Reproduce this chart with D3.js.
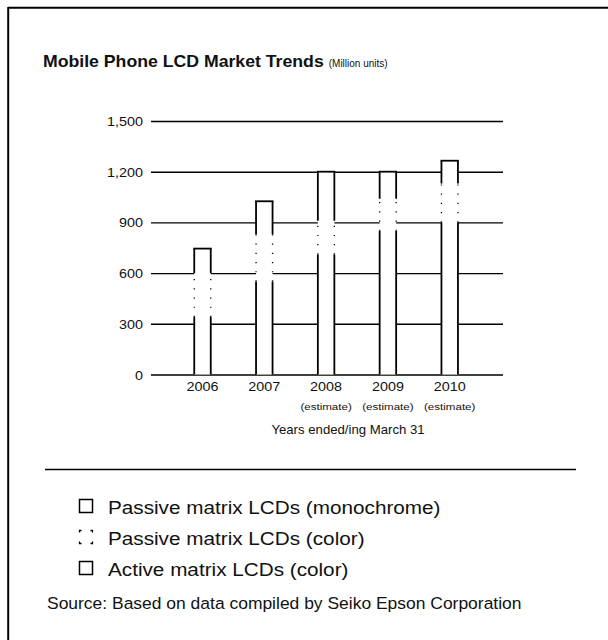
<!DOCTYPE html>
<html>
<head>
<meta charset="utf-8">
<script src="https://cdn.jsdelivr.net/npm/d3@7"></script>
<style>
  html, body { margin: 0; padding: 0; background: #fff; }
  svg { display: block; }
  text { font-family: "Liberation Sans", Arial, Helvetica, sans-serif; fill: #111; }
</style>
</head>
<body>
<svg id="chart" width="608" height="640"></svg>
<script>
// Fiscal years (ended/ending March 31) and their notes
const years = ["2006", "2007", "2008", "2009", "2010"];
const yearNotes = ["", "", "(estimate)", "(estimate)", "(estimate)"];

// Shipments, million units, stacked bottom to top
const activeMatrixColor = [340, 550, 710, 850, 900];
const passiveMatrixColor = [260, 280, 200, 190, 230];
const passiveMatrixMono = [145, 195, 290, 160, 135];

const seriesKeys = ["active", "passiveColor", "passiveMono"];
const legendLabels = [
  "Passive matrix LCDs (monochrome)",
  "Passive matrix LCDs (color)",
  "Active matrix LCDs (color)"
];
const yTicks = [0, 300, 600, 900, 1200, 1500];

const rows = years.map((yr, i) => ({
  year: yr,
  active: activeMatrixColor[i],
  passiveColor: passiveMatrixColor[i],
  passiveMono: passiveMatrixMono[i]
}));

const svg = d3.select("#chart");
const SX = 1.12; // slightly wide typeface

function label(g, x, y, str, size, opts = {}) {
  return g.append("text")
    .attr("transform", `translate(${x},${y}) scale(${opts.sx || SX},1)`)
    .attr("text-anchor", opts.anchor || "start")
    .style("font-size", size + "px")
    .style("font-weight", opts.bold ? "bold" : "normal")
    .text(str);
}

// page frame (top and left edges of the box)
svg.append("line").attr("x1", 8).attr("x2", 608).attr("y1", 7.8).attr("y2", 7.8)
  .attr("stroke", "#000").attr("stroke-width", 2);
svg.append("line").attr("x1", 8.2).attr("x2", 8.2).attr("y1", 7).attr("y2", 640)
  .attr("stroke", "#000").attr("stroke-width", 2);

// title
const title = label(svg, 43, 67, "Mobile Phone LCD Market Trends", 17, { bold: true, sx: 1.04 });
const tw = title.node().getBBox().width * 1.04;
label(svg, 43 + tw + 5, 67, "(Million units)", 10, { sx: 1.0 });

// scales
const gridLeft = 151, gridRight = 503;
const y = d3.scaleLinear().domain([0, 1500]).range([374.5, 121]);
const x = d3.scaleBand().domain(years).range([171.6, 480.6])
  .paddingInner(0.733).paddingOuter(0.3665);

// horizontal grid with value labels
const yAxis = d3.axisLeft(y).tickValues(yTicks).tickFormat(d3.format(","))
  .tickSizeInner(-(gridRight - gridLeft)).tickSizeOuter(0).tickPadding(8);
const ag = svg.append("g").attr("transform", `translate(${gridLeft},0)`).call(yAxis);
ag.select(".domain").remove();
ag.selectAll(".tick line").attr("stroke", "#000").attr("stroke-width", 1.4);
ag.selectAll(".tick text")
  .attr("x", null).attr("dy", null)
  .attr("transform", `translate(-8,4.5) scale(1.15,1)`)
  .style("font-size", "12.5px").style("font-family", "'Liberation Sans', Arial, sans-serif")
  .attr("fill", "#111");

// stacked bars
const stack = d3.stack().keys(seriesKeys)(rows);
const bw = x.bandwidth();
const barLayer = svg.append("g");

// white body of each bar hides the grid behind it
barLayer.selectAll("rect.body").data(rows).join("rect")
  .attr("class", "body")
  .attr("x", d => x(d.year))
  .attr("y", d => y(d.active + d.passiveColor + d.passiveMono))
  .attr("width", bw)
  .attr("height", d => y(0) - y(d.active + d.passiveColor + d.passiveMono))
  .attr("fill", "#fff");

const edgeStyle = {
  active: { dash: null, width: 1.8 },
  passiveColor: { dash: "1.2,8", width: 1.3 },
  passiveMono: { dash: null, width: 1.8 }
};

stack.forEach(layer => {
  const st = edgeStyle[layer.key];
  const g = barLayer.append("g").attr("class", "layer-" + layer.key);
  const segs = layer.map((s, i) => ({ y0: s[0], y1: s[1], year: years[i] }));
  ["left", "right"].forEach(side => {
    g.selectAll("line." + side).data(segs).join("line")
      .attr("class", side)
      .attr("x1", d => x(d.year) + (side === "left" ? 0 : bw))
      .attr("x2", d => x(d.year) + (side === "left" ? 0 : bw))
      .attr("y1", d => y(d.y0))
      .attr("y2", d => y(d.y1))
      .attr("stroke", "#000")
      .attr("stroke-width", st.width)
      .attr("stroke-dasharray", st.dash);
  });
});

// cap on top of each bar
const topLayer = stack[stack.length - 1];
barLayer.selectAll("line.cap").data(topLayer.map((s, i) => ({ v: s[1], year: years[i] })))
  .join("line").attr("class", "cap")
  .attr("x1", d => x(d.year) - 0.9).attr("x2", d => x(d.year) + bw + 0.9)
  .attr("y1", d => y(d.v)).attr("y2", d => y(d.v))
  .attr("stroke", "#000").attr("stroke-width", 1.8);

// year labels and notes
years.forEach((yr, i) => {
  const cx = x(yr) + bw / 2;
  label(svg, cx, 391, yr, 12.5, { anchor: "middle", sx: 1.15 });
  if (yearNotes[i]) label(svg, cx, 409.5, yearNotes[i], 9.8, { anchor: "middle", sx: 1.18 });
});

// axis title
label(svg, 348, 434, "Years ended/ing March 31", 12.2, { anchor: "middle", sx: 1.08 });

// separator rule
svg.append("line").attr("x1", 45).attr("x2", 576).attr("y1", 469.5).attr("y2", 469.5)
  .attr("stroke", "#000").attr("stroke-width", 1.6);

// legend
const lg = svg.append("g");
legendLabels.forEach((name, i) => {
  const top = 499.5 + i * 31;
  const sq = lg.append("rect")
    .attr("x", 79.5).attr("y", top).attr("width", 13).attr("height", 13)
    .attr("fill", "#fff").attr("stroke", "#000").attr("stroke-width", 1.5);
  if (i === 1) sq.attr("stroke-dasharray", "2,9,4,9,4,9,4,9,2").attr("stroke-width", 1.3);
  label(lg, 108, top + 14.5, name, 18.5);
});

// source note
label(svg, 47, 609, "Source: Based on data compiled by Seiko Epson Corporation", 15.6, { sx: 1.12 });
</script>
</body>
</html>
